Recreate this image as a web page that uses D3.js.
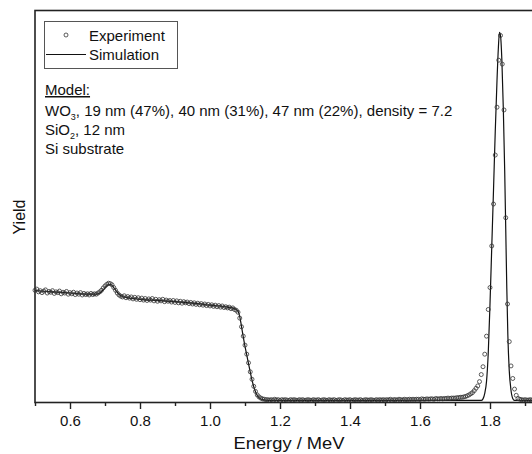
<!DOCTYPE html>
<html lang="en">
  <head>
    <meta charset="UTF-8"/>
    <title>RBS spectrum</title>
    <script src="https://d3js.org/d3.v7.min.js"></script>
    <style>
        body {
          margin: 0;
          background: #fff;
        }
        svg {
          font-family: "Liberation Sans", Arial, sans-serif;
          fill: #111;
        }
        .frame {
          fill: none;
          stroke: #222;
          stroke-width: 1.6;
        }
        .axis path {
          display: none;
        }
        .axis line {
          stroke: #222;
          stroke-width: 1.4;
        }
        .axis text {
          font-size: 15px;
          fill: #111;
        }
        .exp {
          fill: none;
          stroke: #333;
          stroke-width: 0.8;
        }
        .sim {
          fill: none;
          stroke: #111;
          stroke-width: 1.2;
        }
        .legend-box {
          fill: #fff;
          stroke: #555;
          stroke-width: 1;
        }
        .label {
          font-size: 15px;
        }
    </style>
  </head>
  <body>
    <script>
        const margin = {top: 10, right: 0, bottom: 52, left: 35},
              outerWidth  = 532,
              outerHeight = 454,
              width  = 500,   // runs past the right edge, the frame is cut there
              height = outerHeight - margin.top - margin.bottom

        // measured spectrum, energy (MeV) / yield (counts)
        const experiment = [
          [0.500,285],[0.505,288],[0.510,281],[0.515,284],[0.520,279],[0.525,283],[0.530,286],[0.535,278],
          [0.540,282],[0.545,280],[0.550,284],[0.555,277],[0.560,281],[0.565,279],[0.570,283],[0.575,276],
          [0.580,280],[0.585,278],[0.590,282],[0.595,275],[0.600,279],[0.605,276],[0.610,280],[0.615,274],
          [0.620,278],[0.625,275],[0.630,279],[0.635,273],[0.640,277],[0.645,274],[0.650,276],[0.655,273],
          [0.660,277],[0.665,274],[0.670,276],[0.675,275],[0.680,278],[0.685,281],[0.690,285],[0.695,291],
          [0.700,296],[0.705,300],[0.710,303],[0.715,302],[0.720,299],[0.725,292],[0.730,285],[0.735,278],
          [0.740,273],[0.745,270],[0.750,268],[0.755,271],[0.760,266],[0.765,269],[0.770,265],[0.775,268],
          [0.780,263],[0.785,267],[0.790,262],[0.795,266],[0.800,261],[0.805,265],[0.810,260],[0.815,264],
          [0.820,259],[0.825,263],[0.830,260],[0.835,264],[0.840,258],[0.845,262],[0.850,257],[0.855,261],
          [0.860,258],[0.865,262],[0.870,256],[0.875,260],[0.880,257],[0.885,259],[0.890,255],[0.895,259],
          [0.900,254],[0.905,258],[0.910,253],[0.915,257],[0.920,252],[0.925,256],[0.930,253],[0.935,255],
          [0.940,251],[0.945,254],[0.950,250],[0.955,253],[0.960,249],[0.965,252],[0.970,248],[0.975,251],
          [0.980,247],[0.985,250],[0.990,246],[0.995,249],[1.000,245],[1.005,248],[1.010,244],[1.015,247],
          [1.020,243],[1.025,246],[1.030,242],[1.035,245],[1.040,241],[1.045,243],[1.050,240],[1.055,242],
          [1.060,238],[1.065,240],[1.070,236],[1.075,234],[1.080,229],[1.085,214],[1.090,192],[1.095,168],
          [1.100,145],[1.105,122],[1.110,100],[1.115,77],[1.120,58],[1.125,40],[1.130,27],[1.135,18],
          [1.140,13],[1.145,10],[1.150,8],[1.155,7],[1.160,6],[1.165,6],[1.170,5],[1.175,6],
          [1.180,5],[1.185,7],[1.190,5],[1.195,6],[1.200,4],[1.205,6],[1.210,5],[1.215,6],
          [1.220,5],[1.225,4],[1.230,6],[1.235,5],[1.240,6],[1.245,5],[1.250,4],[1.255,6],
          [1.260,5],[1.265,6],[1.270,4],[1.275,5],[1.280,6],[1.285,5],[1.290,4],[1.295,6],
          [1.300,5],[1.305,5],[1.310,6],[1.315,4],[1.320,5],[1.325,6],[1.330,5],[1.335,4],
          [1.340,6],[1.345,5],[1.350,5],[1.355,6],[1.360,4],[1.365,5],[1.370,6],[1.375,5],
          [1.380,4],[1.385,6],[1.390,5],[1.395,5],[1.400,6],[1.405,4],[1.410,5],[1.415,6],
          [1.420,5],[1.425,5],[1.430,6],[1.435,4],[1.440,5],[1.445,6],[1.450,5],[1.455,5],
          [1.460,6],[1.465,5],[1.470,4],[1.475,6],[1.480,5],[1.485,6],[1.490,5],[1.495,6],
          [1.500,5],[1.505,6],[1.510,5],[1.515,7],[1.520,5],[1.525,6],[1.530,6],[1.535,5],
          [1.540,7],[1.545,6],[1.550,5],[1.555,7],[1.560,6],[1.565,6],[1.570,7],[1.575,6],
          [1.580,7],[1.585,6],[1.590,7],[1.595,7],[1.600,6],[1.605,8],[1.610,7],[1.615,7],
          [1.620,8],[1.625,7],[1.630,8],[1.635,8],[1.640,7],[1.645,9],[1.650,8],[1.655,8],
          [1.660,9],[1.665,8],[1.670,9],[1.675,9],[1.680,10],[1.685,9],[1.690,10],[1.695,10],
          [1.700,10],[1.705,11],[1.710,11],[1.715,12],[1.720,12],[1.725,13],[1.730,14],[1.735,16],
          [1.740,18],[1.745,21],[1.750,24],[1.755,29],[1.760,35],[1.765,41],[1.770,52],[1.775,70],
          [1.780,90],[1.785,122],[1.790,168],[1.795,236],[1.800,292],[1.805,398],[1.810,505],[1.815,630],
          [1.820,752],[1.825,872],[1.830,935],[1.835,862],[1.840,745],[1.845,470],[1.850,250],[1.855,154],
          [1.860,92],[1.865,60],[1.870,33],[1.875,17],[1.880,9],[1.885,7],[1.890,6],[1.895,5],
          [1.900,6],[1.905,5],[1.910,5],[1.915,6],[1.920,5],[1.925,5]
        ]

        // simulated spectrum
        const simulation = [
          [0.500,284],[0.550,281],[0.600,278],[0.650,275],[0.675,275],[0.685,278],[0.695,286],
          [0.705,296],[0.712,300],[0.718,299],[0.725,292],[0.735,280],[0.745,271],[0.760,267],
          [0.800,262],[0.850,259],[0.900,256],[0.950,252],[1.000,247],[1.050,242],[1.070,238],
          [1.080,232],[1.085,218],[1.090,193],[1.095,166],[1.100,142],[1.105,120],[1.110,98],
          [1.115,76],[1.120,56],[1.125,39],[1.130,26],[1.135,17],[1.140,11],[1.150,6],[1.165,4],
          [1.400,4],[1.700,4],[1.775,4],[1.780,8],[1.785,22],[1.790,52],[1.795,125],[1.800,250],
          [1.805,395],[1.810,540],[1.815,690],[1.820,820],[1.824,905],[1.827,943],[1.830,935],
          [1.834,870],[1.838,750],[1.842,590],[1.845,440],[1.848,290],[1.851,170],[1.855,80],
          [1.860,30],[1.865,9],[1.870,4],[1.950,4]
        ]

        const majorTicks = [0.6, 0.8, 1.0, 1.2, 1.4, 1.6, 1.8]
        const minorTicks = [0.5, 0.7, 0.9, 1.1, 1.3, 1.5, 1.7, 1.9]

        const xScale = d3.scaleLinear()
            .domain([0.5, 0.5 + width / 350])
            .range([0, width])

        const yScale = d3.scaleLinear()
            .domain([0, 1000])
            .range([height, 0])

        const svg = d3.select("body").append("svg")
            .attr("width", outerWidth)
            .attr("height", outerHeight)

        const g = svg.append("g")
            .attr("transform", `translate(${margin.left}, ${margin.top})`)

        g.append("rect")
            .attr("class", "frame")
            .attr("x", 0)
            .attr("y", 0.5)
            .attr("width", width)
            .attr("height", height)

        // ticks below the axis, labels every 0.2
        g.append("g")
            .attr("class", "x axis")
            .attr("transform", `translate(0, ${height})`)
            .call(d3.axisBottom(xScale)
              .tickValues(majorTicks)
              .tickSize(7)
              .tickSizeOuter(0)
              .tickPadding(6)
              .tickFormat(d3.format(".1f")))

        g.append("g")
            .attr("class", "x axis minor")
            .attr("transform", `translate(0, ${height})`)
            .call(d3.axisBottom(xScale)
              .tickValues(minorTicks)
              .tickSize(4)
              .tickSizeOuter(0)
              .tickFormat(""))

        const line = d3.line()
            .x(d => xScale(d[0]))
            .y(d => yScale(d[1]))
            .curve(d3.curveMonotoneX)

        g.append("path")
            .datum(simulation)
            .attr("class", "sim")
            .attr("d", line)

        g.selectAll("circle.exp")
            .data(experiment)
            .join("circle")
            .attr("class", "exp")
            .attr("cx", d => xScale(d[0]))
            .attr("cy", d => yScale(d[1]))
            .attr("r", 2)

        // axis titles
        svg.append("text")
            .attr("x", 289)
            .attr("y", 449)
            .attr("text-anchor", "middle")
            .style("font-size", "16px")
            .attr("textLength", 111)
            .attr("lengthAdjust", "spacingAndGlyphs")
            .text("Energy / MeV")

        svg.append("text")
            .attr("transform", "translate(25, 217) rotate(-90)")
            .attr("text-anchor", "middle")
            .style("font-size", "16px")
            .text("Yield")

        // legend
        const legend = svg.append("g")
        legend.append("rect")
            .attr("class", "legend-box")
            .attr("x", 44.5)
            .attr("y", 21.5)
            .attr("width", 133)
            .attr("height", 47)
        legend.append("circle")
            .attr("class", "exp")
            .attr("cx", 66)
            .attr("cy", 35)
            .attr("r", 2)
        legend.append("line")
            .attr("class", "sim")
            .attr("x1", 46)
            .attr("x2", 86)
            .attr("y1", 54.5)
            .attr("y2", 54.5)
        legend.append("text")
            .attr("class", "label")
            .attr("x", 89)
            .attr("y", 40.5)
            .text("Experiment")
        legend.append("text")
            .attr("class", "label")
            .attr("x", 89)
            .attr("y", 60)
            .text("Simulation")

        // model description
        const notes = svg.append("g").attr("class", "label")
        notes.append("text")
            .attr("x", 45)
            .attr("y", 95)
            .style("text-decoration", "underline")
            .text("Model:")

        const wo3 = notes.append("text").attr("x", 45).attr("y", 115.5)
        wo3.append("tspan").text("WO")
        wo3.append("tspan").attr("dy", 4).style("font-size", "9px").text("3")
        wo3.append("tspan").attr("dy", -4).text(", 19 nm (47%), 40 nm (31%), 47 nm (22%), density = 7.2")

        const sio2 = notes.append("text").attr("x", 45).attr("y", 135)
        sio2.append("tspan").text("SiO")
        sio2.append("tspan").attr("dy", 4).style("font-size", "9px").text("2")
        sio2.append("tspan").attr("dy", -4).text(", 12 nm")

        notes.append("text")
            .attr("x", 45)
            .attr("y", 154)
            .text("Si substrate")
    </script>
  </body>
</html>
